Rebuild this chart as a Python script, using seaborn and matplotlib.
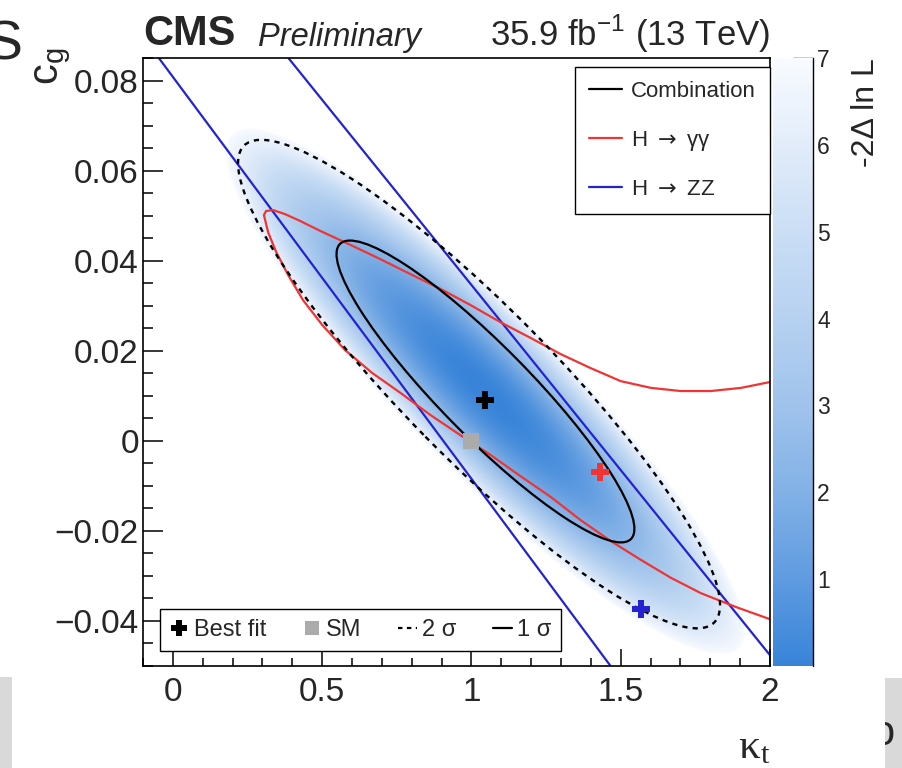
import numpy as np
import matplotlib
matplotlib.use("Agg")
import matplotlib.pyplot as plt
import seaborn as sns
from matplotlib.colors import LinearSegmentedColormap
from matplotlib.lines import Line2D
from matplotlib.patches import Ellipse, Rectangle
from matplotlib.transforms import Affine2D, Bbox
from matplotlib.ticker import MultipleLocator

# ---------------- data ----------------
x_ticks = [0, 0.5, 1, 1.5, 2]
x_tick_labels = ["0", "0.5", "1", "1.5", "2"]
y_ticks = [-0.04, -0.02, 0, 0.02, 0.04, 0.06, 0.08]
y_tick_labels = ["\u22120.04", "\u22120.02", "0", "0.02", "0.04", "0.06", "0.08"]
cbar_ticks = [1, 2, 3, 4, 5, 6, 7]

# combination: 1 sigma ellipse (centre and half-axis vectors in (kappa_t, c_g))
comb_center = [1.047, 0.0110]
comb_major = [0.487, -0.0328]
comb_minor = [0.108, 0.0070]
one_sigma_level = 2.30
# combination: 2 sigma contour
two_sig_center = [1.0255, 0.01264]
two_sig_major = [0.787, -0.0530]
two_sig_minor = [0.1795, 0.01169]

best_fit = [1.047, 0.0091]
sm_point = [1.0, 0.0]
gg_best = [1.430, -0.0068]
zz_best = [1.569, -0.0374]

# H -> ZZ 1 sigma band (two lines)
zz_left_k = [-0.047, 1.466]
zz_left_cg = [0.0851, -0.0500]
zz_right_k = [0.387, 2.0]
zz_right_cg = [0.0851, -0.0476]

# H -> gamma gamma 1 sigma contour (open)
gg_k = [2.0, 1.903, 1.802, 1.701, 1.601, 1.500, 1.399, 1.299, 1.198, 1.097,
        0.997, 0.896, 0.795, 0.695, 0.594, 0.493, 0.426, 0.376, 0.336, 0.312,
        0.305, 0.319, 0.346, 0.386, 0.436, 0.500, 0.577, 0.668, 0.762, 0.862,
        0.963, 1.064, 1.164, 1.265, 1.366, 1.466, 1.567, 1.668, 1.768, 1.886, 2.0]
gg_cg = [0.0131, 0.0118, 0.0111, 0.0111, 0.0118, 0.0133, 0.0162, 0.0193, 0.0229, 0.0264,
         0.0302, 0.0338, 0.0371, 0.0404, 0.0436, 0.0467, 0.0489, 0.0504, 0.0513, 0.0511,
         0.0502, 0.0464, 0.0420, 0.0369, 0.0313, 0.0258, 0.0202, 0.0151, 0.0107, 0.0058,
         0.0013, -0.0031, -0.0078, -0.0124, -0.0176, -0.0222, -0.0264, -0.0304, -0.0338, -0.0369, -0.0396]

x_range = [-0.1, 2.0]
y_range = [-0.05, 0.0851]
z_range = [0, 7]
palette_colors = ["#3884d9", "#5f9be0", "#82b1e6", "#a0c3ec", "#b6d1f0", "#cadef5", "#e2ecfa", "#f8fbff"]

# ---------------- style ----------------
sns.set_style("ticks")
plt.rcParams["font.family"] = ["Liberation Sans", "DejaVu Sans"]
plt.rcParams["axes.unicode_minus"] = True

BLUE = "#2323cf"
RED = "#f03434"

fig = plt.figure(figsize=(9.03, 7.68), dpi=100)
ax = fig.add_axes([143 / 903, 102 / 768, 627 / 903, 608 / 768])
ax.set_facecolor("white")

# likelihood surface from the combination ellipse
kk = np.linspace(x_range[0], x_range[1], 700)
cc = np.linspace(y_range[0], y_range[1], 500)
K, C = np.meshgrid(kk, cc)
M = np.array([comb_major, comb_minor]).T
Minv = np.linalg.inv(M)
dk = K - comb_center[0]
dc = C - comb_center[1]
a = Minv[0, 0] * dk + Minv[0, 1] * dc
b = Minv[1, 0] * dk + Minv[1, 1] * dc
nll = one_sigma_level * (a ** 2 + b ** 2)

cmap = LinearSegmentedColormap.from_list("cmsblue", palette_colors)
cmap.set_over("white")
im = ax.imshow(nll, extent=(x_range[0], x_range[1], y_range[0], y_range[1]), origin="lower",
               aspect="auto", cmap=cmap, vmin=z_range[0], vmax=z_range[1],
               interpolation="bilinear", zorder=0)

# ZZ lines
sns.lineplot(x=zz_left_k, y=zz_left_cg, color=BLUE, lw=1.6, sort=False, estimator=None, ax=ax, zorder=3)
sns.lineplot(x=zz_right_k, y=zz_right_cg, color=BLUE, lw=1.6, sort=False, estimator=None, ax=ax, zorder=3)
# gamma gamma contour
sns.lineplot(x=gg_k, y=gg_cg, color=RED, lw=1.6, sort=False, estimator=None, ax=ax, zorder=3)


def ellipse(center, major, minor, **kw):
    tr = Affine2D(np.array([[major[0], minor[0], center[0]],
                            [major[1], minor[1], center[1]],
                            [0.0, 0.0, 1.0]])) + ax.transData
    return Ellipse((0, 0), 2, 2, transform=tr, fill=False, **kw)


ax.add_patch(ellipse(comb_center, comb_major, comb_minor, color="black", lw=1.6, zorder=4))
ax.add_patch(ellipse(two_sig_center, two_sig_major, two_sig_minor, color="black", lw=1.7,
                     linestyle=(0, (2.2, 2.2)), zorder=4))

# markers
sns.scatterplot(x=[sm_point[0]], y=[sm_point[1]], marker="s", s=120, color="#ababab", linewidth=0, ax=ax, zorder=5)
sns.scatterplot(x=[best_fit[0]], y=[best_fit[1]], marker="P", s=150, color="black", linewidth=0, ax=ax, zorder=6)
sns.scatterplot(x=[gg_best[0]], y=[gg_best[1]], marker="P", s=150, color=RED, linewidth=0, ax=ax, zorder=6)
sns.scatterplot(x=[zz_best[0]], y=[zz_best[1]], marker="P", s=150, color=BLUE, linewidth=0, ax=ax, zorder=6)

ax.set_xlim(*x_range)
ax.set_ylim(*y_range)
ax.set_xticks(x_ticks, x_tick_labels)
ax.set_yticks(y_ticks, y_tick_labels)
ax.xaxis.set_minor_locator(MultipleLocator(0.1))
ax.yaxis.set_minor_locator(MultipleLocator(0.005))
ax.tick_params(which="both", direction="in", top=False, right=False, width=1.1, color="black")
ax.tick_params(axis="x", which="major", length=12, pad=8, labelsize=24)
ax.tick_params(axis="x", which="minor", length=6)
ax.tick_params(axis="y", which="major", length=14.5, pad=3, labelsize=24)
ax.tick_params(axis="y", which="minor", length=7.5)
for sp in ax.spines.values():
    sp.set_color("black")
    sp.set_linewidth(1.2)
    sp.set_visible(True)
    sp.set_zorder(10)

ax.set_xlabel(r"$\mathregular{κ_{t}}$", fontsize=31, family=["Liberation Serif", "DejaVu Serif"], loc="right")
ax.xaxis.set_label_coords(1.0, -0.104)
ax.set_ylabel(r"$\mathregular{c_{g}}$", fontsize=30, loc="top")
ax.yaxis.set_label_coords(-0.112, 1.018)

# legends
h1 = [Line2D([], [], color="black", lw=1.6), Line2D([], [], color=RED, lw=1.6),
      Line2D([], [], color=BLUE, lw=1.6)]
leg1 = ax.legend(h1, ["Combination", "H $\\rightarrow$ \u03b3\u03b3", "H $\\rightarrow$ ZZ"],
                 loc="upper right", bbox_to_anchor=(1.0, 0.985), borderaxespad=0, frameon=True,
                 fancybox=False, edgecolor="black", framealpha=1, fontsize=16, handlelength=1.5,
                 handletextpad=0.4, labelspacing=1.2, borderpad=0.62)
leg1.get_frame().set_linewidth(1.0)
leg1.set_zorder(20)
ax.add_artist(leg1)

h2 = [Line2D([], [], marker="P", color="black", ls="none", ms=12, mew=0),
      Line2D([], [], marker="s", color="#ababab", ls="none", ms=10, mew=0),
      Line2D([], [], color="black", ls=(0, (2, 2)), lw=1.6),
      Line2D([], [], color="black", lw=1.6)]
leg2 = ax.legend(h2, ["Best fit", "SM", "2 \u03c3", "1 \u03c3"], ncol=4, loc="lower left",
                 bbox_to_anchor=(0.0271, 0.0247, 0.6396, 0.07), mode="expand", borderaxespad=0,
                 frameon=True, fancybox=False, edgecolor="black", framealpha=1, fontsize=17,
                 handlelength=0.8, handletextpad=0.2, columnspacing=1.0, borderpad=0.42)
leg2.get_frame().set_linewidth(1.0)
leg2.set_zorder(20)

# colour bar
cax = fig.add_axes([773 / 903, 102 / 768, 40 / 903, 608 / 768])
cbar = fig.colorbar(im, cax=cax, ticks=cbar_ticks)
cbar.outline.set_visible(False)
cax.tick_params(direction="in", length=14.5, width=1.0, labelsize=16.5, pad=3, color="black")
cax.plot([1, 1], [0, 1], transform=cax.transAxes, color="black", lw=1.0, clip_on=False)
cbar.set_label("-2\u0394 ln L", loc="top", fontsize=23, labelpad=15)

# header texts
fig.text(143 / 903, 1 - 45 / 768, "CMS", fontsize=30, fontweight="bold", va="baseline", ha="left")
fig.text(258 / 903, 1 - 46 / 768, "Preliminary", fontsize=23.5, style="italic", va="baseline", ha="left")
fig.text(770 / 903, 1 - 46 / 768, r"35.9 fb$^{\mathregular{-1}}$ (13 TeV)", fontsize=25,
         va="baseline", ha="right")

# slide fragments around the figure
fig.patches.append(Rectangle((0, 0), 12 / 903, 91 / 768, transform=fig.transFigure,
                             facecolor="#d9d9d9", edgecolor="none", zorder=0))
fig.patches.append(Rectangle((885 / 903, 0), 18 / 903, 90 / 768, transform=fig.transFigure,
                             facecolor="#d9d9d9", edgecolor="none", zorder=0))
fig.text(-14 / 903, 1 - 60 / 768, "S", fontsize=40, va="baseline", ha="left")
t = fig.text(871 / 903, 1 - 745 / 768, "o", fontsize=30, va="baseline", ha="left")
t.set_clip_box(Bbox([[885, 0], [903, 768]]))
t.set_clip_on(True)

fig.savefig("out.png", dpi=100)
